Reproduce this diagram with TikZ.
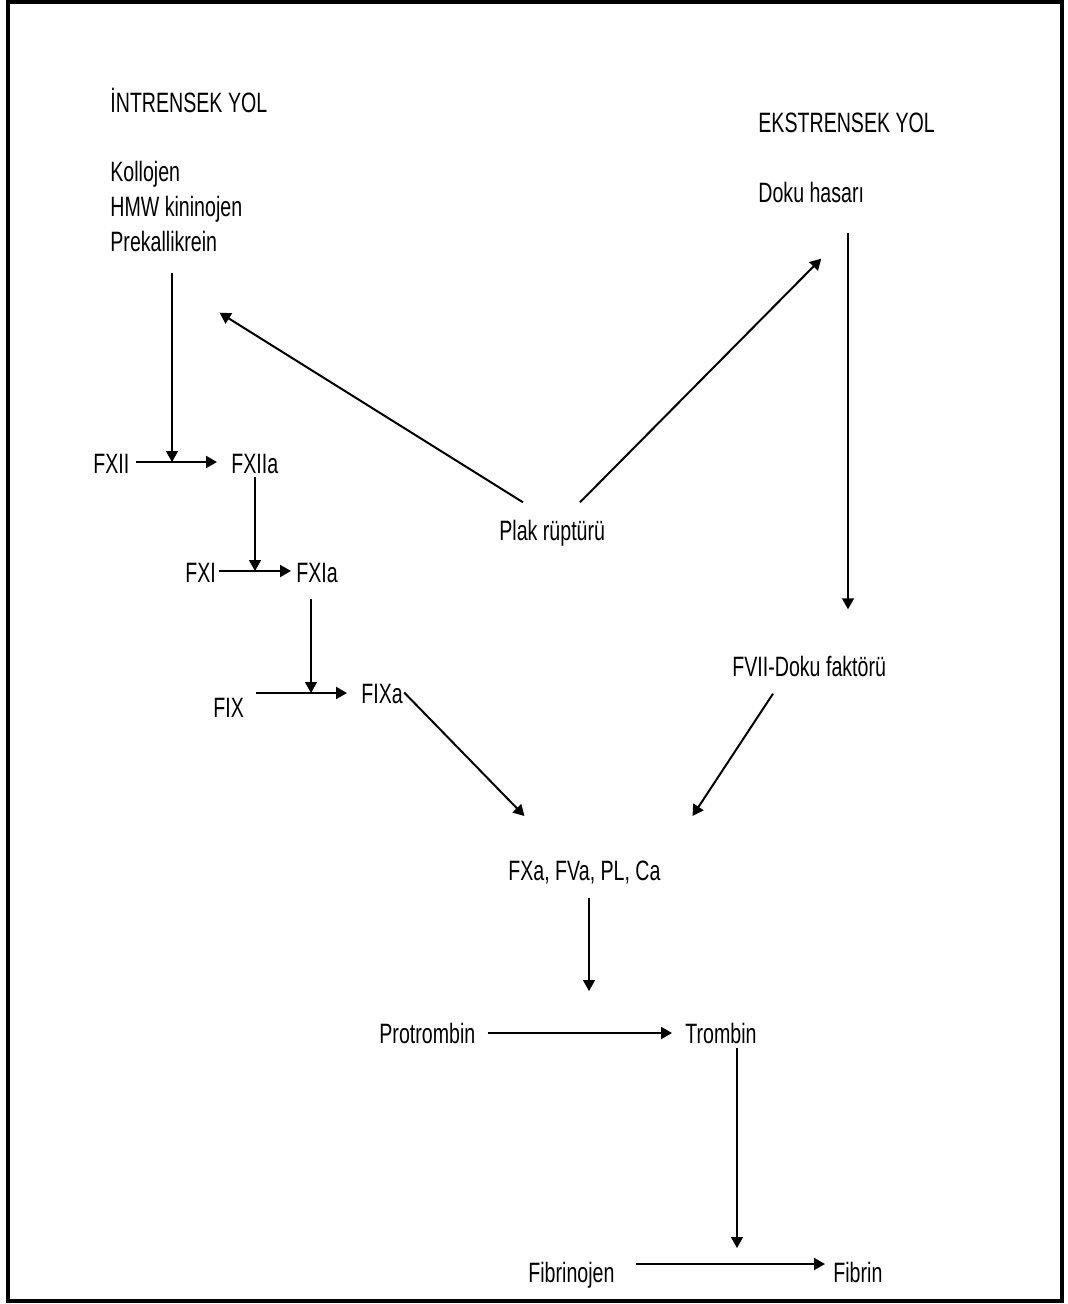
\documentclass[tikz,border=0pt]{standalone}
\usepackage{fontspec}
\setmainfont[FakeStretch=0.70]{Liberation Sans}
\usepackage{tikz}
\usetikzlibrary{calc,arrows.meta}

\newcommand{\lblfont}{\fontsize{14}{16.8}\selectfont}

\begin{document}
\begin{tikzpicture}[
        x=0.5pt, y=-0.5pt,
        lbl/.style={
            inner sep=0pt, anchor=base west, font=\lblfont
        },
        arr/.style={
            -{Triangle[length=5.5pt,width=6pt]}, line width=1pt
        },
        varr/.style={
            arr, line width=0.7pt
        },
        frame/.style={
            draw, line width=2pt
        }
    ]
    \useasboundingbox (0,0) rectangle (1068,1304);
    \draw[frame] (8,2) rectangle (1062,1301);

    % Intrinsic pathway
    \node[lbl] (intyol) at (110,113) {İNTRENSEK YOL};
    \node[lbl] (kollojen) at (110,182) {Kollojen};
    \node[lbl] (hmw) at (110,217) {HMW kininojen};
    \node[lbl] (prekal) at (110,252) {Prekallikrein};

    \node[lbl] (fxii) at (93,473) {FXII};
    \node[lbl] (fxiia) at (231,473) {FXIIa};
    \node[lbl] (fxi) at (185,582) {FXI};
    \node[lbl] (fxia) at (296,582) {FXIa};
    \node[lbl] (fix) at (213,717) {FIX};
    \node[lbl] (fixa) at (361,703) {FIXa};

    % Extrinsic pathway
    \node[lbl] (extyol) at (758,133) {EKSTRENSEK YOL};
    \node[lbl] (dokuhasar) at (758,203) {Doku hasarı};
    \node[lbl] (fvii) at (732,676) {FVII-Doku faktörü};

    \node[lbl] (plak) at (499,540) {Plak rüptürü};

    % Common pathway
    \node[lbl] (fxa) at (508,880) {FXa, FVa, PL, Ca};
    \node[lbl] (protrombin) at (379,1043) {Protrombin};
    \node[lbl] (trombin) at (685,1043) {Trombin};
    \node[lbl] (fibrinojen) at (528,1282) {Fibrinojen};
    \node[lbl] (fibrin) at (833,1282) {Fibrin};

    % junctions and free ends
    \coordinate (j1) at (172,462);
    \coordinate (j2) at (255,571);
    \coordinate (j3) at (311,693);
    \coordinate (j4) at (737,1264);
    \coordinate (dcol) at (848,0);
    \coordinate (fxaend) at (589,991);

    % cascade
    \draw[arr] ($(fxii.east |- j1)+(6,0)$) -- ($(fxiia.west |- j1)+(-14,0)$);
    \draw[varr] ($(prekal.south -| j1)+(0,20)$) -- (j1);
    \draw[arr] ($(fxi.east |- j2)+(3,0)$) -- ($(fxia.west |- j2)+(-5,0)$);
    \draw[varr] ($(fxiia.south -| j2)+(0,3)$) -- (j2);
    \draw[arr] ($(fix.east |- j3)+(12,0)$) -- ($(fixa.west |- j3)+(-14,0)$);
    \draw[varr] ($(fxia.south -| j3)+(0,16)$) -- (j3);

    \draw[arr] ($(plak.north west)+(24,-17)$) -- ($(prekal.south east)+(2,60)$);
    \draw[arr] ($(plak.north west)+(81,-17)$) -- ($(dokuhasar.south)+(10,55)$);
    \draw[varr] ($(dokuhasar.south -| dcol)+(0,29)$) -- ($(fvii.north -| dcol)+(0,-46)$);

    \draw[arr] ($(fixa.east)+(1,-1)$) -- ($(fxa.north)+(-60,-44)$);
    \draw[arr] ($(fvii.south west)+(41,17)$) -- ($(fxa.north)+(108,-44)$);

    \draw[varr] ($(fxa.south -| fxaend)+(0,14)$) -- (fxaend);
    \draw[arr] ($(protrombin.east)+(12,0)$) -- ($(trombin.west)+(-13,0)$);
    \draw[varr] ($(trombin.south -| j4)+(0,4)$) -- ($(j4)+(0,-16)$);
    \draw[arr] ($(fibrinojen.east |- j4)+(21,0)$) -- ($(fibrin.west |- j4)+(-8,0)$);

\end{tikzpicture}
\end{document}
